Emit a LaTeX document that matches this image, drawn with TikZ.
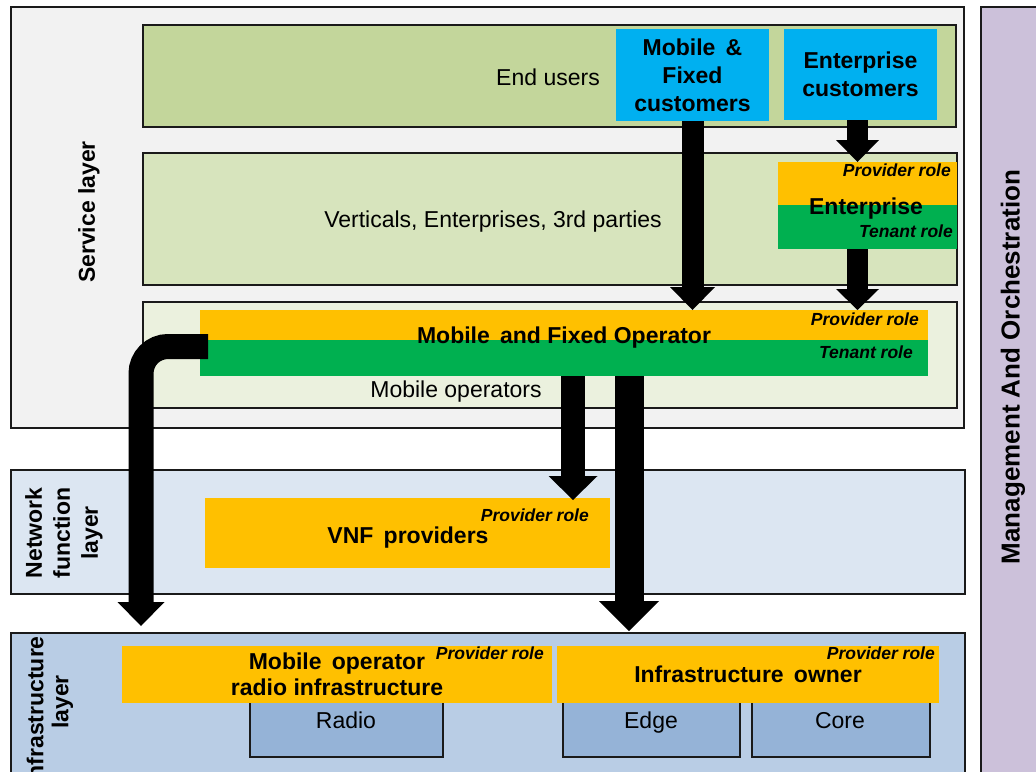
\documentclass[tikz,border=0pt]{standalone}
\usepackage{fontspec}
\setmainfont{Liberation Sans}
\usetikzlibrary{arrows.meta,calc}
\definecolor{svcgray}{HTML}{F2F2F2}
\definecolor{enduser}{HTML}{C3D69B}
\definecolor{vertical}{HTML}{D7E4BD}
\definecolor{mobop}{HTML}{EBF1DE}
\definecolor{custblue}{HTML}{00B0F0}
\definecolor{provorange}{HTML}{FFC000}
\definecolor{tengreen}{HTML}{00B050}
\definecolor{mgmt}{HTML}{CCC1DA}
\definecolor{nflayer}{HTML}{DCE6F2}
\definecolor{inflayer}{HTML}{B9CDE5}
\definecolor{infbox}{HTML}{95B3D7}
\definecolor{framecol}{HTML}{1A1A1A}
\begin{document}
\begin{tikzpicture}[x=1pt,y=-1pt,
  rect/.style={anchor=north west, inner sep=0pt, outer sep=0pt, rectangle},
  frame/.style={rect, draw=framecol, line width=2.6pt},
  bar/.style={rect},
  txt/.style={font=\fontsize{23}{27}\selectfont, inner sep=0pt},
  btxt/.style={font=\bfseries\fontsize{23}{28}\selectfont, align=center, inner sep=0pt},
  role/.style={font=\bfseries\itshape\fontsize{17.5}{20}\selectfont, inner sep=0pt, anchor=east},
  laylbl/.style={font=\bfseries\fontsize{23}{28}\selectfont, rotate=90, align=center, inner sep=0pt},
  blk/.style={draw=black, line width=#1},
]
\useasboundingbox (0,0) rectangle (1036,771);
\clip (0,0) rectangle (1036,771);

% ---------- Service layer ----------
\node[frame, fill=svcgray, minimum width=953pt, minimum height=421pt] (svc) at (11,7) {};
\node[laylbl] (svclbl) at (89,212) {Service layer};

\node[frame, fill=enduser, minimum width=813pt, minimum height=102pt] (eu) at (143,25) {};
\node[txt] (eulbl) at (548,77) {End users};
\node[rect, fill=custblue, minimum width=153pt, minimum height=92pt, btxt] (mfc) at (616,29) {Mobile \,\&\\Fixed\\customers};
\node[rect, fill=custblue, minimum width=153pt, minimum height=91pt, btxt] (ec) at (784,29) {Enterprise\\customers};

\node[frame, fill=vertical, minimum width=814pt, minimum height=132pt] (vert) at (143,153) {};
\node[txt] (vertlbl) at (493,222) {Verticals, Enterprises, 3rd parties};
\node[bar, fill=provorange, minimum width=179pt, minimum height=43pt] (entp) at (778,162) {};
\node[bar, fill=tengreen, minimum width=179pt, minimum height=44pt] (entt) at (778,205) {};
\node[rect, minimum width=179pt, minimum height=87pt] (ent) at (778,162) {};
\node[btxt] (entlbl) at (866,209) {Enterprise};
\node[role] (entprov) at (951,170) {Provider role};
\node[role] (entten) at (953,231) {Tenant role};

\node[frame, fill=mobop, minimum width=814pt, minimum height=106pt] (mo) at (143,302) {};
\node[txt] (molbl) at (456,392) {Mobile operators};
\node[bar, fill=provorange, minimum width=728pt, minimum height=30pt] (opp) at (200,310) {};
\node[bar, fill=tengreen, minimum width=728pt, minimum height=36pt] (opt) at (200,340) {};
\node[rect, minimum width=728pt, minimum height=66pt] (op) at (200,310) {};
\node[btxt] (oplbl) at (564,338) {Mobile \,and Fixed Operator};
\node[role] (opprov) at (919,319) {Provider role};
\node[role] (opten) at (913,352) {Tenant role};

% ---------- Management ----------
\node[frame, fill=mgmt, minimum width=80pt, minimum height=800pt] (mgt) at (981,7) {};
\node[font=\bfseries\fontsize{26}{30}\selectfont, rotate=90, inner sep=0pt] (mgtlbl) at (1013,367) {Management And Orchestration};

% ---------- Network function layer ----------
\node[frame, fill=nflayer, minimum width=954pt, minimum height=124pt] (nf) at (11,470) {};
\node[laylbl] (nflbl) at (64,533) {Network\\function\\layer};
\node[bar, fill=provorange, minimum width=405pt, minimum height=70pt] (vnf) at (205,498) {};
\node[btxt] (vnflbl) at (408,538) {VNF \,providers};
\node[role] (vnfprov) at (589,515) {Provider role};

% ---------- Infrastructure layer ----------
\node[frame, fill=inflayer, minimum width=954pt, minimum height=200pt] (inf) at (11,633) {};
\node[laylbl, font=\bfseries\fontsize{23}{25}\selectfont] (inflbl) at (50,711) {Infrastructure\\\hspace*{18pt}layer};
\node[frame, fill=infbox, minimum width=193pt, minimum height=67pt] (radio) at (250,690) {};
\node[frame, fill=infbox, minimum width=177pt, minimum height=67pt] (edge) at (563,690) {};
\node[frame, fill=infbox, minimum width=178pt, minimum height=67pt] (core) at (752,690) {};
\node[txt, anchor=base] (radiolbl) at (346,728) {Radio};
\node[txt, anchor=base] (edgelbl) at (651,728) {Edge};
\node[txt, anchor=base] (corelbl) at (840,728) {Core};
\node[bar, fill=provorange, minimum width=430pt, minimum height=57pt, btxt, font=\bfseries\fontsize{23}{26}\selectfont] (mori) at (122,646) {Mobile \,operator\\radio infrastructure};
\node[role] (moriprov) at (544,653) {Provider role};
\node[bar, fill=provorange, minimum width=382pt, minimum height=57pt, btxt] (io) at (557,646) {Infrastructure \,owner};
\node[role] (ioprov) at (935,653) {Provider role};

% ---------- Arrows ----------
\draw[blk=22pt, -{Triangle[width=45pt,length=23pt,line width=0pt 0 0]}] (mfc.south) -- (mfc.south |- op.north);
\coordinate (a2) at ([xshift=-3pt]ec.south);
\draw[blk=21pt, -{Triangle[width=43pt,length=22pt,line width=0pt 0 0]}] (a2) -- (a2 |- ent.north);
\draw[blk=21pt, -{Triangle[width=43pt,length=21pt,line width=0pt 0 0]}] (a2 |- ent.south) -- (a2 |- op.north);
\coordinate (a4) at ([xshift=9pt]op.south);
\draw[blk=24pt, -{Triangle[width=49pt,length=24pt,line width=0pt 0 0]}] (a4) -- ($(a4 |- vnf.north)+(0,2)$);
\coordinate (a5) at ([xshift=65pt]op.south);
\draw[blk=29pt, -{Triangle[width=60pt,length=30pt,line width=0pt 0 0]}] (a5) -- ($(a5 |- inf.north)+(0,-2)$);
\coordinate (a6) at ($(op.north west)+(8,36.5)$);
\coordinate (a6c) at ($(a6)+(-67,0)$);
\draw[blk=25pt, rounded corners=27pt, -{Triangle[width=47pt,length=24pt,line width=0pt 0 0]}] (a6) -- (a6c) -- ($(a6c |- inf.north)+(0,-7)$);
\end{tikzpicture}
\end{document}
